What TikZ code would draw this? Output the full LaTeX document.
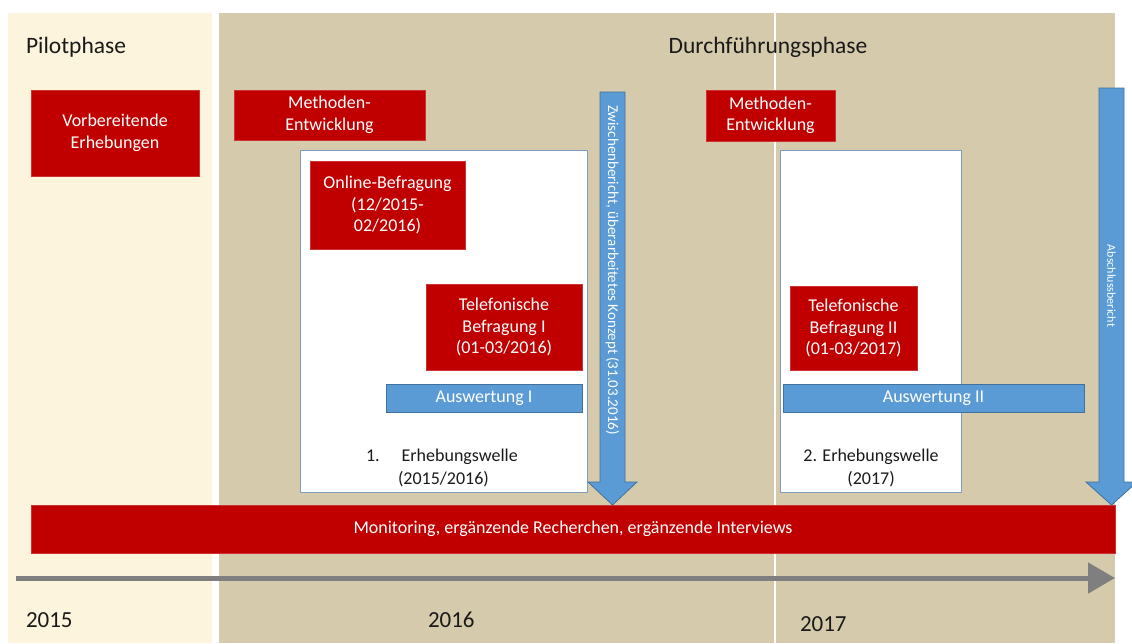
\documentclass[tikz,border=0pt]{standalone}
\usepackage{fontspec}
\setmainfont{Carlito}
\usetikzlibrary{arrows.meta}
\definecolor{pilotbg}{HTML}{FDF4DD}
\definecolor{mainbg}{HTML}{D5CAAB}
\definecolor{boxred}{HTML}{C00000}
\definecolor{boxblue}{HTML}{5B9BD5}
\definecolor{blueedge}{HTML}{41719C}
\definecolor{waveedge}{HTML}{7F9DBF}
\definecolor{axisgray}{HTML}{7F7F7F}
\definecolor{textdark}{HTML}{1A1A1A}

\begin{document}
\begin{tikzpicture}[x=1pt,y=-1pt,
  every node/.style={inner sep=0pt, outer sep=0pt},
  bodyfont/.style={font=\fontsize{18}{21.5}\selectfont},
  boxsize/.style 2 args={minimum width=#1, minimum height=#2},
  redbox/.style={bodyfont, fill=boxred, draw=boxred!80!white, line width=0.8pt,
    text=white, align=center},
  bluebox/.style={bodyfont, fill=boxblue, draw=blueedge, line width=0.8pt,
    text=white, align=center},
  wavebox/.style={fill=white, draw=waveedge, line width=0.8pt},
  bluearrow/.style={fill=boxblue, draw=blueedge, line width=0.8pt},
  arrowtext/.style={text=white},
  phase/.style={font=\fontsize{23.5}{28}\selectfont, text=textdark, anchor=base west},
  year/.style={font=\fontsize{23}{28}\selectfont, text=textdark, anchor=base west},
  plain/.style={bodyfont, text=textdark},
]
\useasboundingbox (0,0) rectangle (1132,643);
\clip (0,0) rectangle (1132,643);

% phase backgrounds
\fill[pilotbg] (8,13) rectangle (212,643);
\fill[mainbg] (219,13) rectangle (1115,643);
\fill[white] (774,13) rectangle (776,643);

% phase titles
\node[phase] (pilot) at (26,53) {Pilotphase};
\node[phase, anchor=base] (durch) at (768,53) {Durchführungsphase};

% preparation and method development
\node[redbox, boxsize={168}{86}] (vorb) at (115,133) {Vorbereitende\\Erhebungen};
\node[redbox, boxsize={191}{50}] (meth1) at (329.5,115) {Methoden-\\Entwicklung};
\node[redbox, boxsize={129}{51}] (meth2) at (770.5,115.5) {Methoden-\\Entwicklung};

% first survey wave
\node[wavebox, boxsize={287}{342}] (wave1) at (443.5,321) {};
\node[redbox, boxsize={155}{88}] (online) at (387.5,205) {Online-Befragung\\(12/2015-\\02/2016)};
\node[redbox, boxsize={156}{86}] (tel1) at (504,327) {Telefonische\\Befragung I\\(01-03/2016)};
\node[bluebox, boxsize={196}{28}] (ausw1) at (484,398) {Auswertung I};
\node[plain, anchor=base west] (w1a) at (366,461) {1.\hspace{22pt}Erhebungswelle};
\node[plain, anchor=base west] (w1b) at (398,484) {(2015/2016)};

% second survey wave
\node[wavebox, boxsize={181}{342}] (wave2) at (870.5,321) {};
\node[redbox, boxsize={127}{84}] (tel2) at (853.5,328) {Telefonische\\Befragung II\\(01-03/2017)};
\node[bluebox, boxsize={301}{28}] (ausw2) at (933.5,398) {Auswertung II};
\node[plain, anchor=base] (w2a) at (871,461) {2. Erhebungswelle};
\node[plain, anchor=base] (w2b) at (871,484) {(2017)};

% continuous activities
\node[redbox, boxsize={1084}{48}] (monitor) at (573,529)
  {Monitoring, ergänzende Recherchen, ergänzende Interviews};

% report milestones
\draw[bluearrow] (600,92) -- (625,92) -- (625,482) -- (637,482) -- (612.5,505)
  -- (588,482) -- (600,482) -- cycle;
\node[arrowtext, rotate=-90, font=\fontsize{15}{17}\selectfont] (zwb) at (612.5,270)
  {Zwischenbericht, überarbeitetes Konzept (31.03.2016)};
\draw[bluearrow] (1099,88) -- (1124,88) -- (1124,482) -- (1137,482) -- (1111.5,505)
  -- (1086,482) -- (1099,482) -- cycle;
\node[arrowtext, rotate=-90, font=\fontsize{12}{14}\selectfont] (absb) at (1111.5,286)
  {Abschlussbericht};

% time axis
\coordinate (tstart) at (16,578);
\coordinate (tend) at (1115,578);
\draw[axisgray, line width=5pt, -{Triangle[length=27pt,width=30pt]}] (tstart) -- (tend);

\node[year] (y15) at (26,627) {2015};
\node[year] (y16) at (428,627) {2016};
\node[year] (y17) at (800,631) {2017};
\end{tikzpicture}
\end{document}
